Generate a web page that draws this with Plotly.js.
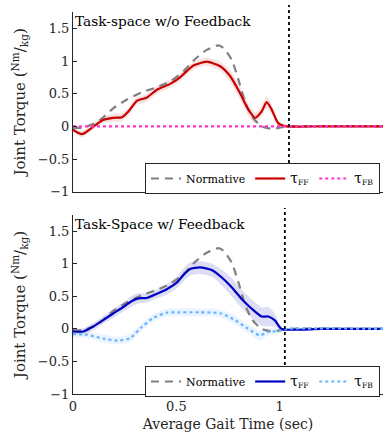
<!DOCTYPE html>
<html>
<head>
<meta charset="utf-8">
<script src="https://cdn.plot.ly/plotly-3.0.1.min.js"></script>
<style>html,body{margin:0;padding:0;background:#fff}#chart{width:391px;height:438px}</style>
</head>
<body>
<div id="chart"></div>
<script>
// ---- data ----
const normT = [0, 0.05, 0.10, 0.132, 0.196, 0.261, 0.333, 0.406, 0.47, 0.534, 0.591, 0.647, 0.703, 0.728, 0.768, 0.80, 0.832, 0.865, 0.913, 0.969, 1.0, 1.05, 1.5];
const normV = [-0.02, -0.02, 0.04, 0.10, 0.28, 0.41, 0.52, 0.60, 0.69, 0.84, 1.03, 1.17, 1.24, 1.20, 1.02, 0.72, 0.38, 0.15, 0.0, -0.04, -0.02, 0, 0];

const topFFT = [0, 0.043, 0.10, 0.148, 0.196, 0.237, 0.269, 0.309, 0.357, 0.406, 0.47, 0.518, 0.559, 0.583, 0.647, 0.712, 0.76, 0.808, 0.848, 0.881, 0.913, 0.937, 0.961, 0.993, 1.034, 1.2, 1.5];
const topFFV = [-0.05, -0.12, 0.0, 0.10, 0.13, 0.14, 0.23, 0.39, 0.44, 0.56, 0.65, 0.75, 0.87, 0.93, 0.99, 0.92, 0.77, 0.51, 0.26, 0.13, 0.23, 0.37, 0.26, 0.05, 0, 0, 0];
const topFFSd = [0.04, 0.05, 0.05, 0.05, 0.06, 0.06, 0.06, 0.06, 0.06, 0.06, 0.06, 0.06, 0.06, 0.06, 0.06, 0.07, 0.09, 0.10, 0.10, 0.08, 0.08, 0.09, 0.08, 0.04, 0.01, 0, 0];
const topFBT = [0, 0.5, 1.0, 1.5];
const topFBV = [0, 0, 0, 0];

const botFFT = [0, 0.05, 0.10, 0.148, 0.196, 0.245, 0.285, 0.317, 0.357, 0.406, 0.454, 0.502, 0.535, 0.567, 0.615, 0.671, 0.72, 0.768, 0.816, 0.865, 0.913, 0.945, 0.977, 1.01, 1.2, 1.5];
const botFFV = [-0.04, -0.04, 0.04, 0.14, 0.24, 0.34, 0.43, 0.47, 0.475, 0.54, 0.61, 0.71, 0.83, 0.92, 0.945, 0.905, 0.79, 0.64, 0.46, 0.31, 0.19, 0.19, 0.13, 0, 0, 0];
const botFFSd = [0.04, 0.05, 0.06, 0.06, 0.07, 0.07, 0.08, 0.08, 0.07, 0.07, 0.08, 0.09, 0.10, 0.10, 0.10, 0.10, 0.12, 0.14, 0.14, 0.14, 0.14, 0.15, 0.10, 0.02, 0, 0];
const botFBT = [0, 0.068, 0.148, 0.22, 0.277, 0.333, 0.389, 0.454, 0.518, 0.615, 0.712, 0.776, 0.841, 0.905, 0.937, 1.0, 1.03, 1.5];
const botFBV = [-0.08, -0.09, -0.15, -0.18, -0.14, 0.03, 0.17, 0.25, 0.255, 0.255, 0.24, 0.15, 0.015, -0.10, -0.05, -0.03, 0, 0];
const botFBSd = [0.05, 0.05, 0.06, 0.06, 0.06, 0.06, 0.06, 0.06, 0.06, 0.06, 0.06, 0.07, 0.07, 0.08, 0.06, 0.04, 0.0, 0.0];

const strideEnd = [1.045, 1.025];
const xTicks = [0, 0.5, 1, 1.5];
const yTicks = [-1, -0.5, 0, 0.5, 1, 1.5];
const yTickText = ['−1', '−0.5', '0', '0.5', '1', '1.5'];
const titles = ["Task-space w/o Feedback", "Task-Space w/ Feedback"];
const seriesNames = ['Normative', '<span style="font-size:14px">τ</span><sub>FF</sub>', '<span style="font-size:14px">τ</span><sub>FB</sub>'];

// ---- helpers ----
function band(t, v, sd, color, xa, ya) {
  const up = v.map((d, i) => d + sd[i]);
  const lo = v.map((d, i) => d - sd[i]);
  return {
    x: t.concat(t.slice().reverse()),
    y: up.concat(lo.slice().reverse()),
    fill: 'toself', fillcolor: color, line: {width: 0, shape: 'spline', smoothing: 0.6},
    mode: 'lines', hoverinfo: 'skip', showlegend: false, xaxis: xa, yaxis: ya
  };
}
const serif = 'DejaVu Serif';

const traces = [
  band(topFFT, topFFV, topFFSd, 'rgba(220,120,120,0.22)', 'x', 'y'),
  {x: normT, y: normV, mode: 'lines', name: seriesNames[0], line: {color: '#808080', width: 2.2, dash: '8px,6px', shape: 'spline', smoothing: 0.6}, xaxis: 'x', yaxis: 'y', legend: 'legend'},
  {x: topFFT, y: topFFV, mode: 'lines', name: seriesNames[1], line: {color: '#c80000', width: 2.2, shape: 'spline', smoothing: 0.6}, xaxis: 'x', yaxis: 'y', legend: 'legend'},
  {x: topFBT, y: topFBV, mode: 'lines', name: seriesNames[2], line: {color: '#ff33cc', width: 2.2, dash: 'dot'}, xaxis: 'x', yaxis: 'y', legend: 'legend'},

  band(botFFT, botFFV, botFFSd, 'rgba(120,120,220,0.25)', 'x2', 'y2'),
  band(botFBT, botFBV, botFBSd, 'rgba(160,205,255,0.22)', 'x2', 'y2'),
  {x: normT, y: normV, mode: 'lines', name: seriesNames[0], line: {color: '#808080', width: 2.2, dash: '8px,6px', shape: 'spline', smoothing: 0.6}, xaxis: 'x2', yaxis: 'y2', legend: 'legend2'},
  {x: botFFT, y: botFFV, mode: 'lines', name: seriesNames[1], line: {color: '#0000c0', width: 2.2, shape: 'spline', smoothing: 0.6}, xaxis: 'x2', yaxis: 'y2', legend: 'legend2'},
  {x: botFBT, y: botFBV, mode: 'lines', name: seriesNames[2], line: {color: '#66b3ff', width: 2.2, dash: 'dot', shape: 'spline', smoothing: 0.6}, xaxis: 'x2', yaxis: 'y2', legend: 'legend2'}
];

const H = 382, bottomPx = 394;
const py = p => (bottomPx - p) / H;

const xBase = {
  range: [0, 1.5], tickvals: xTicks, ticks: 'inside', ticklen: 4, tickcolor: '#262626',
  showline: true, linecolor: '#262626', linewidth: 1, showgrid: false, zeroline: false,
  tickfont: {family: serif, size: 13, color: '#262626'}
};
const yBase = {
  range: [-1, 1.75], tickvals: yTicks, ticktext: yTickText, ticks: 'inside', ticklen: 4, tickcolor: '#262626',
  showline: true, linecolor: '#262626', linewidth: 1, showgrid: false, zeroline: false,
  tickfont: {family: serif, size: 13, color: '#262626'},
  title: {text: 'Joint Torque (<sup>Nm</sup>/<sub>kg</sub>)', font: {family: serif, size: 15, color: '#262626'}, standoff: 8}
};
const legBase = {
  orientation: 'h', xanchor: 'left', yanchor: 'top', bgcolor: '#ffffff', bordercolor: '#262626', borderwidth: 1,
  font: {family: serif, size: 11, color: '#000'}, itemwidth: 30, tracegroupgap: 0
};

const layout = {
  width: 391, height: 438,
  margin: {l: 73, r: 8, t: 12, b: 44},
  paper_bgcolor: '#fff', plot_bgcolor: '#fff',
  showlegend: true,
  font: {family: serif},
  xaxis: Object.assign({}, xBase, {domain: [0, 1], anchor: 'y', showticklabels: false}),
  yaxis: Object.assign({}, yBase, {domain: [py(191.7), 1], anchor: 'x'}),
  xaxis2: Object.assign({}, xBase, {domain: [0, 1], anchor: 'y2',
    title: {text: 'Average Gait Time (sec)', font: {family: serif, size: 14, color: '#262626'}, standoff: 6}}),
  yaxis2: Object.assign({}, yBase, {domain: [0, py(215)], anchor: 'x2'}),
  legend: Object.assign({}, legBase, {x: (145 - 73) / 310, y: py(163)}),
  legend2: Object.assign({}, legBase, {x: (145 - 73) / 310, y: py(366)}),
  annotations: [
    {text: titles[0], xref: 'paper', yref: 'paper', x: 0, y: py(11), xanchor: 'left', yanchor: 'top', showarrow: false,
     font: {family: serif, size: 13.7, color: '#000'}},
    {text: titles[1], xref: 'paper', yref: 'paper', x: 0, y: py(214), xanchor: 'left', yanchor: 'top', showarrow: false,
     font: {family: serif, size: 13.7, color: '#000'}}
  ],
  shapes: [
    {type: 'line', xref: 'x', yref: 'paper', x0: strideEnd[0], x1: strideEnd[0], y0: py(193), y1: py(5), line: {color: '#000', width: 1.8, dash: 'dot'}},
    {type: 'line', xref: 'x2', yref: 'paper', x0: strideEnd[1], x1: strideEnd[1], y0: py(395), y1: py(208), line: {color: '#000', width: 1.8, dash: 'dot'}}
  ]
};

Plotly.newPlot('chart', traces, layout, {displayModeBar: false, staticPlot: true});
</script>
</body>
</html>
